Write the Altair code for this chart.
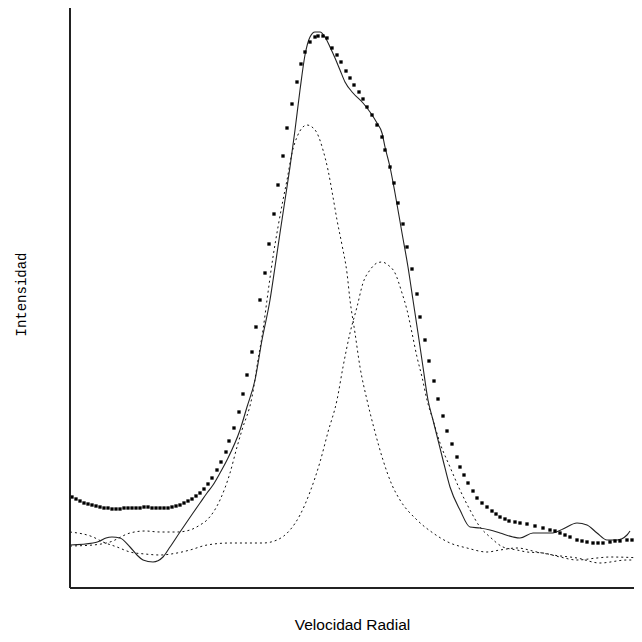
import altair as alt
import pandas as pd

# Observed profile (square markers)
obs_v = [2, 6, 10, 14, 18, 22, 26, 30, 34, 38, 42, 46, 50, 54, 58, 62, 66, 70, 74, 78,
         82, 86, 90, 94, 98, 102, 106, 110, 114, 118, 122, 126, 130, 134, 138, 142, 147,
         151, 156, 159, 164, 169, 173, 177, 182, 186, 190, 195, 199, 204, 208, 213, 217,
         222, 227, 231, 235, 240, 245, 248, 253, 257, 262, 267, 271, 276, 280, 284, 289,
         293, 297, 302, 307, 312, 315, 320, 324, 328, 333, 337, 342, 347, 350, 355, 359,
         364, 368, 373, 377, 382, 387, 390, 394, 398, 403, 407, 412, 417, 422, 426, 430,
         435, 439, 445, 450, 457, 465, 473, 480, 485, 490, 495, 500, 507, 512, 517, 523,
         528, 533, 540, 545, 550, 557, 562, 567, 573]
obs_i = [91, 89, 87, 85, 84, 83, 82, 81, 80, 80, 79, 79, 79, 80, 80, 80, 80, 80, 81, 81,
         80, 80, 80, 80, 80, 81, 82, 83, 85, 87, 89, 92, 95, 99, 104, 110, 118,
         126, 136, 147, 160, 176, 194, 213, 236, 261, 288, 315, 344, 374, 403, 432, 460,
         484, 506, 524, 536, 546, 551, 552, 552, 550, 540, 533, 526, 517, 510, 503, 496,
         489, 481, 473, 463, 451, 438, 421, 405, 385, 364, 341, 319, 294, 271, 248, 227,
         207, 189, 172, 157, 144, 131, 121, 113, 105, 97, 90, 85, 81, 77, 74, 71,
         69, 67, 66, 65, 64, 62, 60, 58, 57, 55, 53, 51, 48, 47, 46, 45,
         45, 45, 46, 47, 47, 48, 48, 48, 48]

# Fitted total profile (solid line)
fit_v = [0, 23, 30, 36, 42, 50, 60, 67, 73, 83, 93, 100, 110, 123, 130, 137, 143, 150,
         157, 170, 177, 185, 192, 200, 205, 210, 215, 220, 225, 230, 235, 240, 245, 250,
         255, 260, 265, 270, 275, 283, 293, 300, 307, 312, 315, 320, 325, 332, 338, 343,
         348, 353, 358, 363, 368, 373, 380, 390, 400, 410, 420, 430, 443, 450, 463, 483,
         493, 507, 517, 527, 537, 547, 557, 560]
fit_i = [43, 45, 47, 50, 51, 50, 41, 33, 28, 26, 31, 41, 56, 75, 85, 95, 103, 115,
         128, 158, 181, 208, 248, 288, 321, 355, 388, 421, 458, 498, 533, 551, 556, 556,
         551, 541, 530, 518, 506, 495, 485, 476, 465, 455, 441, 421, 395, 355, 321, 288,
         255, 221, 188, 168, 148, 128, 101, 78, 61, 60, 58, 55, 51, 50, 55, 55,
         59, 65, 63, 55, 48, 48, 53, 57]

# Component 1 (dashed)
c1_v = [0, 23, 40, 60, 75, 90, 107, 120, 130, 137, 150, 160, 167, 172, 182, 188, 193,
        197, 203, 208, 213, 217, 222, 227, 232, 237, 242, 247, 253, 258, 263, 267, 272,
        277, 280, 285, 290, 297, 305, 313, 322, 330, 347, 363, 380, 397, 417, 430, 447,
        467, 483, 507, 530, 557, 573]
c1_i = [42, 43, 46, 55, 57, 56, 56, 58, 63, 68, 88, 115, 141, 158, 191, 228, 258,
        288, 331, 361, 388, 408, 435, 451, 460, 463, 461, 455, 438, 418, 391, 368, 343,
        315, 288, 255, 221, 188, 156, 128, 103, 88, 68, 55, 45, 40, 36, 38, 40,
        36, 33, 30, 25, 28, 28]

# Component 2 (dashed)
c2_v = [0, 23, 33, 47, 60, 75, 90, 107, 120, 137, 160, 193, 207, 220, 230, 240, 250,
        258, 267, 273, 280, 287, 293, 300, 307, 312, 318, 325, 332, 337, 342, 347, 352,
        357, 363, 370, 380, 390, 400, 410, 420, 433, 447, 457, 473, 490, 507, 527, 540, 573]
c2_i = [56, 51, 46, 41, 36, 34, 33, 35, 38, 43, 45, 45, 48, 58, 73, 96, 126,
        156, 188, 221, 255, 281, 305, 318, 325, 326, 323, 315, 295, 278, 255, 231, 211,
        188, 168, 145, 121, 98, 78, 61, 51, 41, 38, 36, 35, 31, 28, 30, 31, 30]

obs = pd.DataFrame({"v": obs_v, "i": obs_i})
fit = pd.DataFrame({"v": fit_v, "i": fit_i})
c1 = pd.DataFrame({"v": c1_v, "i": c1_i, "c": "1"})
c2 = pd.DataFrame({"v": c2_v, "i": c2_i, "c": "2"})
comps = pd.concat([c1, c2], ignore_index=True)

W = 564
H = 583

xs = alt.Scale(domain=[0, W], nice=False, zero=False)
ys = alt.Scale(domain=[0, H], nice=False, zero=False)

xaxis = alt.Axis(domain=False, ticks=False, labels=False, grid=False,
                 title="Velocidad Radial", titleFont="Liberation Sans",
                 titleFontSize=15.5, titleFontWeight="normal", titleColor="#000",
                 titleX=282, titleY=41, titleBaseline="alphabetic", titleAlign="center")
yaxis = alt.Axis(domain=False, ticks=False, labels=False, grid=False,
                 title="Intensidad", titleFont="Liberation Mono",
                 titleFontSize=14, titleFontWeight="normal", titleColor="#000",
                 titleAngle=270, titleX=-45, titleY=289, titleBaseline="alphabetic",
                 titleAlign="center")

x = alt.X("v:Q", scale=xs, axis=xaxis)
y = alt.Y("i:Q", scale=ys, axis=yaxis)

comp_lines = alt.Chart(comps).mark_line(
    color="#111", strokeWidth=1, strokeDash=[2, 3], interpolate="monotone", clip=True
).encode(x=x, y=y, detail="c:N")

fit_line = alt.Chart(fit).mark_line(
    color="#222", strokeWidth=1.1, interpolate="monotone", clip=True
).encode(x=x, y=y)

obs_pts = alt.Chart(obs).mark_square(
    size=11, color="black", opacity=1, filled=True, clip=True
).encode(x=x, y=y)

frame_style = dict(color="#222", strokeWidth=1.3)
top_rule = alt.Chart(obs).mark_rule(**frame_style).encode(
    x=alt.value(0), x2=alt.value(W), y=alt.value(0))
bottom_rule = alt.Chart(obs).mark_rule(**frame_style).encode(
    x=alt.value(0), x2=alt.value(W), y=alt.value(H))
left_rule = alt.Chart(obs).mark_rule(**frame_style).encode(
    x=alt.value(0), y=alt.value(0), y2=alt.value(H))

chart = alt.layer(comp_lines, fit_line, obs_pts, top_rule, bottom_rule, left_rule).properties(
    width=W, height=H,
    autosize=alt.AutoSizeParams(type="none"),
    padding={"left": 62, "top": -3, "right": 0, "bottom": 46},
    background="white",
).configure_view(strokeWidth=0)

chart.save("out.html", embed_options={"renderer": "svg", "actions": False})
